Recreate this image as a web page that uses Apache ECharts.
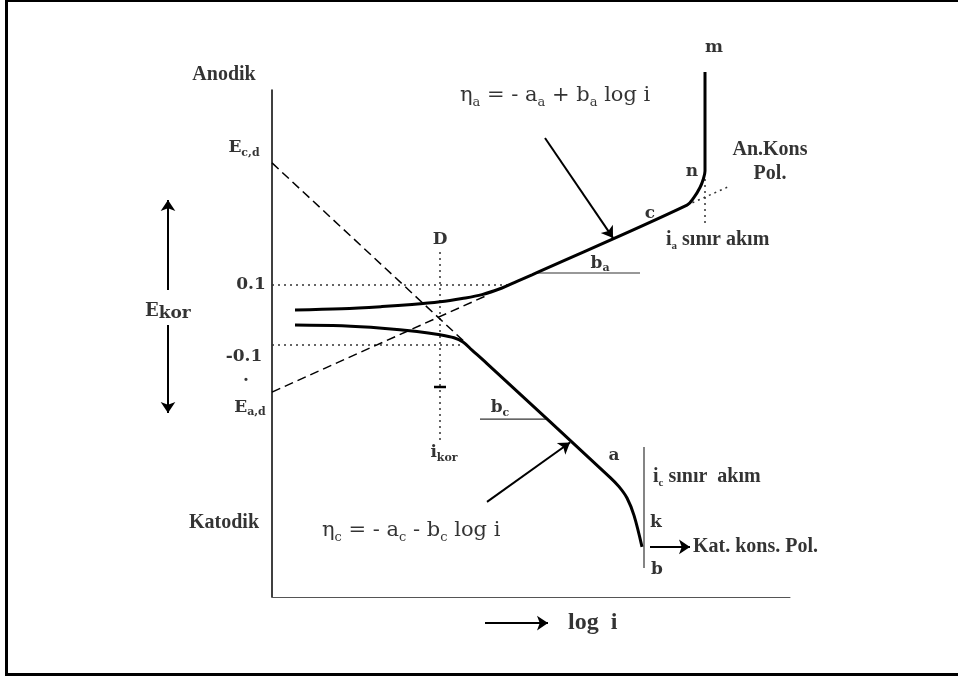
<!DOCTYPE html>
<html>
<head>
<meta charset="utf-8">
<script src="https://cdn.jsdelivr.net/npm/echarts@6/dist/echarts.min.js"></script>
<style>
  html, body { margin: 0; padding: 0; background: #fff; }
  #chart { position: absolute; left: 0; top: 0; width: 958px; height: 679px; }
  #frame {
    position: absolute; left: 5px; top: 0; width: 953px; height: 676px;
    box-sizing: border-box; pointer-events: none;
    border-left: 3px solid #000; border-top: 2px solid #000; border-bottom: 3px solid #000;
  }
</style>
</head>
<body>
<div id="chart"></div>
<div id="frame"></div>
<script>
// Evans polarisation diagram: x = log i (arbitrary units), y = potential E (V, 0 at E_kor)

// anodic polarisation curve: activation -> Tafel line -> concentration limit (n -> m)
const anodicCurve = [
  [0.23, 0.017], [0.70, 0.021], [1.10, 0.028], [1.40, 0.035], [1.68, 0.044],
  [1.90, 0.055], [2.10, 0.068], [2.30, 0.090], [2.45, 0.112], [2.60, 0.134],
  [4.15, 0.366], [4.22, 0.392], [4.28, 0.425], [4.31, 0.450], [4.33, 0.480],
  [4.33, 0.810]
];
// cathodic polarisation curve: activation -> Tafel line -> limiting current (a -> k -> b)
const cathodicCurve = [
  [0.23, -0.033], [0.70, -0.036], [1.10, -0.044], [1.45, -0.055], [1.68, -0.066],
  [1.82, -0.076], [1.91, -0.090], [2.00, -0.117], [2.15, -0.162], [3.38, -0.541],
  [3.47, -0.572], [3.55, -0.610], [3.62, -0.668], [3.70, -0.773]
];
// Tafel extrapolations back to the equilibrium potentials
const anodicTafel = [[0, -0.257], [2.16, 0.067]];     // from E_a,d
const cathodicTafel = [[0, 0.507], [1.93, -0.091]];   // from E_c,d
const anodicTafelExt = [[4.15, 0.366], [4.58, 0.430]];

// dotted reference lines
const levelPlus = [[0, 0.1], [2.38, 0.1]];
const levelMinus = [[0, -0.1], [1.91, -0.1]];
const corrosionDrop = [[1.68, 0.21], [1.68, -0.417]];
const anodicLimitDrop = [[4.33, 0.473], [4.33, 0.293]];

// slope markers and limiting-current line
const baLine = [[2.64, 0.14], [3.68, 0.14]];
const bcLine = [[2.08, -0.347], [2.75, -0.347]];
const cathodicLimit = [[3.72, -0.44], [3.72, -0.843]];
const corrosionTick = [[1.62, -0.24], [1.74, -0.24]];

// arrows: [start, end]
const arrows = [
  [[2.73, 0.590], [3.41, 0.257]],     // eta_a -> anodic Tafel line
  [[2.15, -0.623], [2.98, -0.425]],   // eta_c -> cathodic Tafel line
  [[3.78, -0.773], [4.18, -0.773]],   // Kat. kons. Pol.
  [[2.13, -1.027], [2.76, -1.027]],   // log i
  [[-1.04, 0.083], [-1.04, 0.383]],   // E_kor up
  [[-1.04, -0.033], [-1.04, -0.327]]  // E_kor down
];

// text annotations (anchor in data units)
const labels = [
  { at: [-0.48, 0.80], text: 'Anodik', font: 'times', align: 'center' },
  { at: [-0.48, -0.693], text: 'Katodik', font: 'times', align: 'center' },
  { at: [-0.28, 0.557], text: 'E{s|c,d}', font: 'cent', align: 'center' },
  { at: [-0.21, 0.10], text: '0.1', font: 'cent', align: 'center' },
  { at: [-0.28, -0.14], text: '-0.1', font: 'cent', align: 'center' },
  { at: [-0.26, -0.205], text: '.', font: 'cent', align: 'center' },
  { at: [-0.22, -0.307], text: 'E{s|a,d}', font: 'cent', align: 'center' },
  { at: [-1.27, 0.01], text: '{E|E}{k|kor}', font: 'cent', align: 'left' },
  { at: [1.68, 0.25], text: 'D', font: 'cent', align: 'center' },
  { at: [1.72, -0.46], text: 'i{s|kor}', font: 'cent', align: 'center' },
  { at: [1.88, 0.733], text: 'η{f|a} = - a{f|a} + b{f|a} log i', font: 'eq', align: 'left' },
  { at: [0.50, -0.717], text: 'η{f|c} = - a{f|c} - b{f|c} log i', font: 'eq', align: 'left' },
  { at: [4.42, 0.89], text: 'm', font: 'cent', align: 'center' },
  { at: [4.20, 0.477], text: 'n', font: 'cent', align: 'center' },
  { at: [4.98, 0.51], text: 'An.Kons\nPol.', font: 'times', align: 'center' },
  { at: [3.78, 0.337], text: 'c', font: 'cent', align: 'center' },
  { at: [3.94, 0.25], text: 'i{s|a} sınır akım', font: 'times', align: 'left' },
  { at: [3.28, 0.173], text: 'b{s|a}', font: 'cent', align: 'center' },
  { at: [2.28, -0.31], text: 'b{s|c}', font: 'cent', align: 'center' },
  { at: [3.42, -0.47], text: 'a', font: 'cent', align: 'center' },
  { at: [3.81, -0.54], text: 'i{s|c} sınır  akım', font: 'times', align: 'left' },
  { at: [3.84, -0.693], text: 'k', font: 'cent', align: 'center' },
  { at: [4.21, -0.773], text: 'Kat. kons. Pol.', font: 'times', align: 'left' },
  { at: [3.85, -0.85], text: 'b', font: 'cent', align: 'center' },
  { at: [2.96, -1.027], text: 'log  i', font: 'timesBig', align: 'left' }
];

const fonts = {
  times: { fontFamily: 'Liberation Serif', fontWeight: 'bold', fontSize: 20, lineHeight: 24 },
  timesBig: { fontFamily: 'Liberation Serif', fontWeight: 'bold', fontSize: 24, lineHeight: 28 },
  cent: { fontFamily: 'DejaVu Serif', fontWeight: 'bold', fontSize: 17, lineHeight: 22 },
  eq: { fontFamily: 'DejaVu Serif', fontWeight: 'normal', fontSize: 21, lineHeight: 28 }
};
const richFor = (f) => ({
  s: { fontFamily: f.fontFamily, fontWeight: 'bold', fontSize: 11, lineHeight: 12, verticalAlign: 'bottom', color: '#000' },
  f: { fontFamily: f.fontFamily, fontWeight: 'normal', fontSize: 13, lineHeight: 15, verticalAlign: 'bottom', color: '#000' },
  E: { fontFamily: 'DejaVu Serif', fontWeight: 'bold', fontSize: 18, lineHeight: 20, verticalAlign: 'top', color: '#000' },
  k: { fontFamily: 'DejaVu Serif', fontWeight: 'bold', fontSize: 17, lineHeight: 16, verticalAlign: 'bottom', color: '#000' }
});

const line = (data, lineStyle, smooth) => ({
  type: 'line', data, symbol: 'none', clip: false, silent: true,
  smooth: smooth || false, lineStyle: Object.assign({ color: '#000' }, lineStyle)
});

const thick = { width: 3 };
const dashed = { width: 1.5, type: [9, 5] };
const dotted = { width: 1.5, type: [2, 4], color: '#333' };
const thin = { width: 1.2, color: '#333' };

const chart = echarts.init(document.getElementById('chart'), null, { renderer: 'canvas' });
chart.setOption({
  animation: false,
  backgroundColor: '#fff',
  grid: { left: 272, top: 90, right: 168, bottom: 82 },
  xAxis: {
    type: 'value', min: 0, max: 5.18,
    axisLine: { show: true, onZero: false, lineStyle: { color: '#555', width: 1 } },
    axisTick: { show: false }, axisLabel: { show: false }, splitLine: { show: false }
  },
  yAxis: {
    type: 'value', min: -0.94, max: 0.75,
    axisLine: { show: true, onZero: false, lineStyle: { color: '#000', width: 1.5 } },
    axisTick: { show: false }, axisLabel: { show: false }, splitLine: { show: false }
  },
  series: [
    line(levelPlus, dotted),
    line(levelMinus, dotted),
    line(corrosionDrop, dotted),
    line(anodicLimitDrop, dotted),
    line(anodicTafelExt, dotted),
    line(anodicTafel, dashed),
    line(cathodicTafel, dashed),
    line(baLine, thin),
    line(bcLine, thin),
    line(cathodicLimit, thin),
    line(corrosionTick, { width: 2.5 }),
    line(anodicCurve, thick, 0.35),
    line(cathodicCurve, thick, 0.35),
    {
      type: 'lines', coordinateSystem: 'cartesian2d', clip: false, silent: true,
      symbol: ['none', 'arrow'], symbolSize: 11,
      lineStyle: { color: '#000', width: 2, opacity: 1 },
      data: arrows.map(c => ({ coords: c }))
    },
    {
      type: 'scatter', clip: false, silent: true, symbolSize: 0,
      data: labels.map(l => ({
        value: l.at,
        label: Object.assign({
          show: true, position: 'inside', color: '#000', align: l.align, verticalAlign: 'middle',
          formatter: l.text, rich: richFor(fonts[l.font])
        }, fonts[l.font])
      }))
    }
  ]
});
</script>
</body>
</html>
